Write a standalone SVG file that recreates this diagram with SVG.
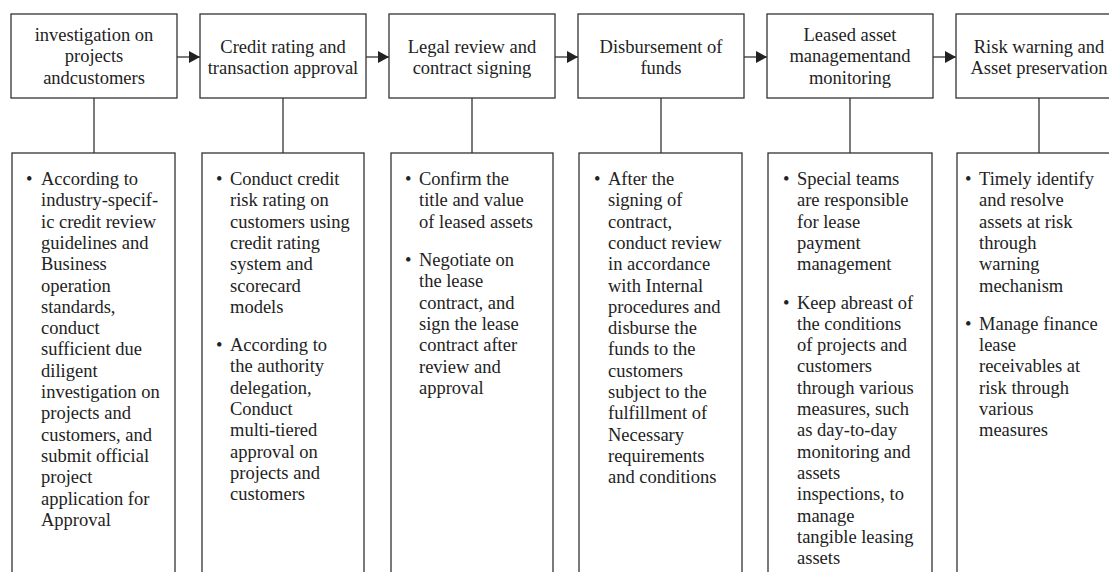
<svg xmlns="http://www.w3.org/2000/svg" width="1109" height="572" viewBox="0 0 1109 572">
<defs>
<style>
.box{fill:#fff;stroke:#333;stroke-width:1.3}
.ln{stroke:#333;stroke-width:1.3;fill:none}
.t{font-family:"Liberation Serif","Times New Roman",serif;font-size:18.5px;fill:#222}
.c{text-anchor:middle}
</style>
<marker id="ah" markerUnits="userSpaceOnUse" markerWidth="11" markerHeight="12" refX="11" refY="6" orient="auto">
<path d="M0,0 L11,6 L0,12 z" fill="#222"/>
</marker>
</defs>
<rect width="1109" height="572" fill="#fff"/>

<g id="connectors">
<line class="ln" x1="177" y1="57" x2="200" y2="57" marker-end="url(#ah)"/>
<line class="ln" x1="366" y1="57" x2="389" y2="57" marker-end="url(#ah)"/>
<line class="ln" x1="555" y1="57" x2="578" y2="57" marker-end="url(#ah)"/>
<line class="ln" x1="744" y1="57" x2="767" y2="57" marker-end="url(#ah)"/>
<line class="ln" x1="933" y1="57" x2="956" y2="57" marker-end="url(#ah)"/>
<line class="ln" x1="94" y1="98" x2="94" y2="153"/>
<line class="ln" x1="283" y1="98" x2="283" y2="153"/>
<line class="ln" x1="472" y1="98" x2="472" y2="153"/>
<line class="ln" x1="661" y1="98" x2="661" y2="153"/>
<line class="ln" x1="850" y1="98" x2="850" y2="153"/>
<line class="ln" x1="1039" y1="98" x2="1039" y2="153"/>
</g>

<g id="step1">
<rect class="box" x="11" y="14" width="166" height="84"/>
<text class="t c" x="94" y="40.5">investigation on<tspan x="94" dy="21.5">projects</tspan><tspan x="94" dy="21.5">andcustomers</tspan></text>
</g>
<g id="step2">
<rect class="box" x="200" y="14" width="166" height="84"/>
<text class="t c" x="283" y="52.5">Credit rating and<tspan x="283" dy="21.5">transaction approval</tspan></text>
</g>
<g id="step3">
<rect class="box" x="389" y="14" width="166" height="84"/>
<text class="t c" x="472" y="52.5">Legal review and<tspan x="472" dy="21.5">contract signing</tspan></text>
</g>
<g id="step4">
<rect class="box" x="578" y="14" width="166" height="84"/>
<text class="t c" x="661" y="52.5">Disbursement of<tspan x="661" dy="21.5">funds</tspan></text>
</g>
<g id="step5">
<rect class="box" x="767" y="14" width="166" height="84"/>
<text class="t c" x="850" y="40.5">Leased asset<tspan x="850" dy="21.5">managementand</tspan><tspan x="850" dy="21.5">monitoring</tspan></text>
</g>
<g id="step6">
<rect class="box" x="956" y="14" width="166" height="84"/>
<text class="t c" x="1039" y="52.5">Risk warning and<tspan x="1039" dy="21.5">Asset preservation</tspan></text>
</g>

<g id="detail1">
<rect class="box" x="12" y="153" width="163" height="440"/>
<text class="t" x="26" y="185">•</text>
<text class="t" x="41" y="185">According to<tspan x="41" dy="21.3">industry-specif-</tspan><tspan x="41" dy="21.3">ic credit review</tspan><tspan x="41" dy="21.3">guidelines and</tspan><tspan x="41" dy="21.3">Business</tspan><tspan x="41" dy="21.3">operation</tspan><tspan x="41" dy="21.3">standards,</tspan><tspan x="41" dy="21.3">conduct</tspan><tspan x="41" dy="21.3">sufficient due</tspan><tspan x="41" dy="21.3">diligent</tspan><tspan x="41" dy="21.3">investigation on</tspan><tspan x="41" dy="21.3">projects and</tspan><tspan x="41" dy="21.3">customers, and</tspan><tspan x="41" dy="21.3">submit official</tspan><tspan x="41" dy="21.3">project</tspan><tspan x="41" dy="21.3">application for</tspan><tspan x="41" dy="21.3">Approval</tspan></text>
</g>

<g id="detail2">
<rect class="box" x="202" y="153" width="162" height="440"/>
<text class="t" x="216" y="185">•</text>
<text class="t" x="230" y="185">Conduct credit<tspan x="230" dy="21.3">risk rating on</tspan><tspan x="230" dy="21.3">customers using</tspan><tspan x="230" dy="21.3">credit rating</tspan><tspan x="230" dy="21.3">system and</tspan><tspan x="230" dy="21.3">scorecard</tspan><tspan x="230" dy="21.3">models</tspan></text>
<text class="t" x="216" y="351">•</text>
<text class="t" x="230" y="351">According to<tspan x="230" dy="21.3">the authority</tspan><tspan x="230" dy="21.3">delegation,</tspan><tspan x="230" dy="21.3">Conduct</tspan><tspan x="230" dy="21.3">multi-tiered</tspan><tspan x="230" dy="21.3">approval on</tspan><tspan x="230" dy="21.3">projects and</tspan><tspan x="230" dy="21.3">customers</tspan></text>
</g>

<g id="detail3">
<rect class="box" x="391" y="153" width="162" height="440"/>
<text class="t" x="405" y="185">•</text>
<text class="t" x="419" y="185">Confirm the<tspan x="419" dy="21.3">title and value</tspan><tspan x="419" dy="21.3">of leased assets</tspan></text>
<text class="t" x="405" y="266">•</text>
<text class="t" x="419" y="266">Negotiate on<tspan x="419" dy="21.3">the lease</tspan><tspan x="419" dy="21.3">contract, and</tspan><tspan x="419" dy="21.3">sign the lease</tspan><tspan x="419" dy="21.3">contract after</tspan><tspan x="419" dy="21.3">review and</tspan><tspan x="419" dy="21.3">approval</tspan></text>
</g>

<g id="detail4">
<rect class="box" x="579" y="153" width="163" height="440"/>
<text class="t" x="594" y="185">•</text>
<text class="t" x="608" y="185">After the<tspan x="608" dy="21.3">signing of</tspan><tspan x="608" dy="21.3">contract,</tspan><tspan x="608" dy="21.3">conduct review</tspan><tspan x="608" dy="21.3">in accordance</tspan><tspan x="608" dy="21.3">with Internal</tspan><tspan x="608" dy="21.3">procedures and</tspan><tspan x="608" dy="21.3">disburse the</tspan><tspan x="608" dy="21.3">funds to the</tspan><tspan x="608" dy="21.3">customers</tspan><tspan x="608" dy="21.3">subject to the</tspan><tspan x="608" dy="21.3">fulfillment of</tspan><tspan x="608" dy="21.3">Necessary</tspan><tspan x="608" dy="21.3">requirements</tspan><tspan x="608" dy="21.3">and conditions</tspan></text>
</g>

<g id="detail5">
<rect class="box" x="768" y="153" width="164" height="440"/>
<text class="t" x="783" y="185">•</text>
<text class="t" x="797" y="185">Special teams<tspan x="797" dy="21.3">are responsible</tspan><tspan x="797" dy="21.3">for lease</tspan><tspan x="797" dy="21.3">payment</tspan><tspan x="797" dy="21.3">management</tspan></text>
<text class="t" x="783" y="308.5">•</text>
<text class="t" x="797" y="308.5">Keep abreast of<tspan x="797" dy="21.3">the conditions</tspan><tspan x="797" dy="21.3">of projects and</tspan><tspan x="797" dy="21.3">customers</tspan><tspan x="797" dy="21.3">through various</tspan><tspan x="797" dy="21.3">measures, such</tspan><tspan x="797" dy="21.3">as day-to-day</tspan><tspan x="797" dy="21.3">monitoring and</tspan><tspan x="797" dy="21.3">assets</tspan><tspan x="797" dy="21.3">inspections, to</tspan><tspan x="797" dy="21.3">manage</tspan><tspan x="797" dy="21.3">tangible leasing</tspan><tspan x="797" dy="21.3">assets</tspan></text>
</g>

<g id="detail6">
<rect class="box" x="957" y="153" width="170" height="440"/>
<text class="t" x="965" y="185">•</text>
<text class="t" x="979" y="185">Timely identify<tspan x="979" dy="21.3">and resolve</tspan><tspan x="979" dy="21.3">assets at risk</tspan><tspan x="979" dy="21.3">through</tspan><tspan x="979" dy="21.3">warning</tspan><tspan x="979" dy="21.3">mechanism</tspan></text>
<text class="t" x="965" y="329.8">•</text>
<text class="t" x="979" y="329.8">Manage finance<tspan x="979" dy="21.3">lease</tspan><tspan x="979" dy="21.3">receivables at</tspan><tspan x="979" dy="21.3">risk through</tspan><tspan x="979" dy="21.3">various</tspan><tspan x="979" dy="21.3">measures</tspan></text>
</g>
</svg>
